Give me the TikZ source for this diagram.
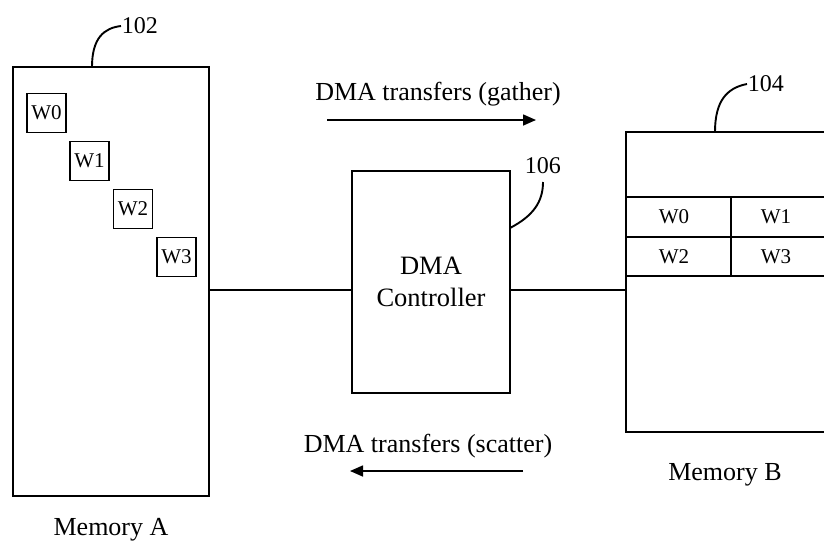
\documentclass[tikz,border=0pt]{standalone}
\usepackage{fontspec}
\setmainfont{Liberation Serif}
\usetikzlibrary{arrows.meta}
\begin{document}
\begin{tikzpicture}[x=1pt,y=-1pt,
  line width=1.9pt,
  block/.style={draw, rectangle, inner sep=0pt, outer sep=0pt, anchor=north west},
  wbox/.style={draw, rectangle, inner sep=0pt, outer sep=0pt, minimum width=39pt, minimum height=39pt, font=\fontsize{21}{23}\selectfont},
  wtext/.style={font=\fontsize{21}{23}\selectfont, inner sep=0pt},
  lbl/.style={font=\fontsize{26}{30}\selectfont, inner sep=0pt},
  num/.style={font=\fontsize{24}{28}\selectfont, inner sep=0pt, anchor=west},
  flow/.style={-{Triangle[length=13pt,width=11pt]}, line width=1.6pt}]
\useasboundingbox (0,0) rectangle (824,550);
\clip (0,0) rectangle (824,550);

% Memory A with its scattered words
\node[block, minimum width=196pt, minimum height=429pt] (memA) at (13,67) {};
\node[wbox] (a0) at (46.5,113) {W0};
\node[wbox] (a1) at (89.5,161) {W1};
\node[wbox] (a2) at (133,209) {W2};
\node[wbox] (a3) at (176.5,257) {W3};
\node[lbl] at (111,530) {Memory A};

% DMA controller
\node[block, minimum width=158pt, minimum height=222pt] (dma) at (352,171) {};
\node[lbl, align=center, font=\fontsize{26.5}{32}\selectfont] at (dma.center) {DMA\\Controller};

% Memory B with gathered words
\node[block, minimum width=230pt, minimum height=300pt] (memB) at (626,132) {};
\coordinate (r1) at (626,197);
\coordinate (r2) at (626,237);
\coordinate (r3) at (626,276);
\draw (r1) -- +(230,0);
\draw (r2) -- +(230,0);
\draw (r3) -- +(230,0);
\draw (731,197) -- (731,276);
\node[wtext] at (674,217) {W0};
\node[wtext] at (776,217) {W1};
\node[wtext] at (674,257) {W2};
\node[wtext] at (776,257) {W3};
\node[lbl] at (725,475) {Memory B};

% Bus links
\coordinate (bus) at (0,290);
\draw (memA.east |- bus) -- (dma.west |- bus);
\draw (dma.east |- bus) -- (memB.west |- bus);

% Transfer directions
\node[lbl] (gather) at (438,94) {DMA transfers (gather)};
\coordinate (g1) at (327,120);
\coordinate (g2) at (536,120);
\draw[flow] (g1) -- (g2);
\node[lbl] (scatter) at (428,446) {DMA transfers (scatter)};
\coordinate (s1) at (523,471);
\coordinate (s2) at (350,471);
\draw[flow] (s1) -- (s2);

% Reference numerals with leader curves
\node[num] (n102) at (121,26) {102};
\draw (92,67) .. controls (92,38) and (104,28) .. (n102.west);
\node[num] (n106) at (524,166) {106};
\draw (dma.east |- 0,228) .. controls (533,216) and (543,202) .. (543,182);
\node[num] (n104) at (747,84) {104};
\draw (715,132) .. controls (715,102) and (726,88) .. (n104.west);
\end{tikzpicture}
\end{document}
